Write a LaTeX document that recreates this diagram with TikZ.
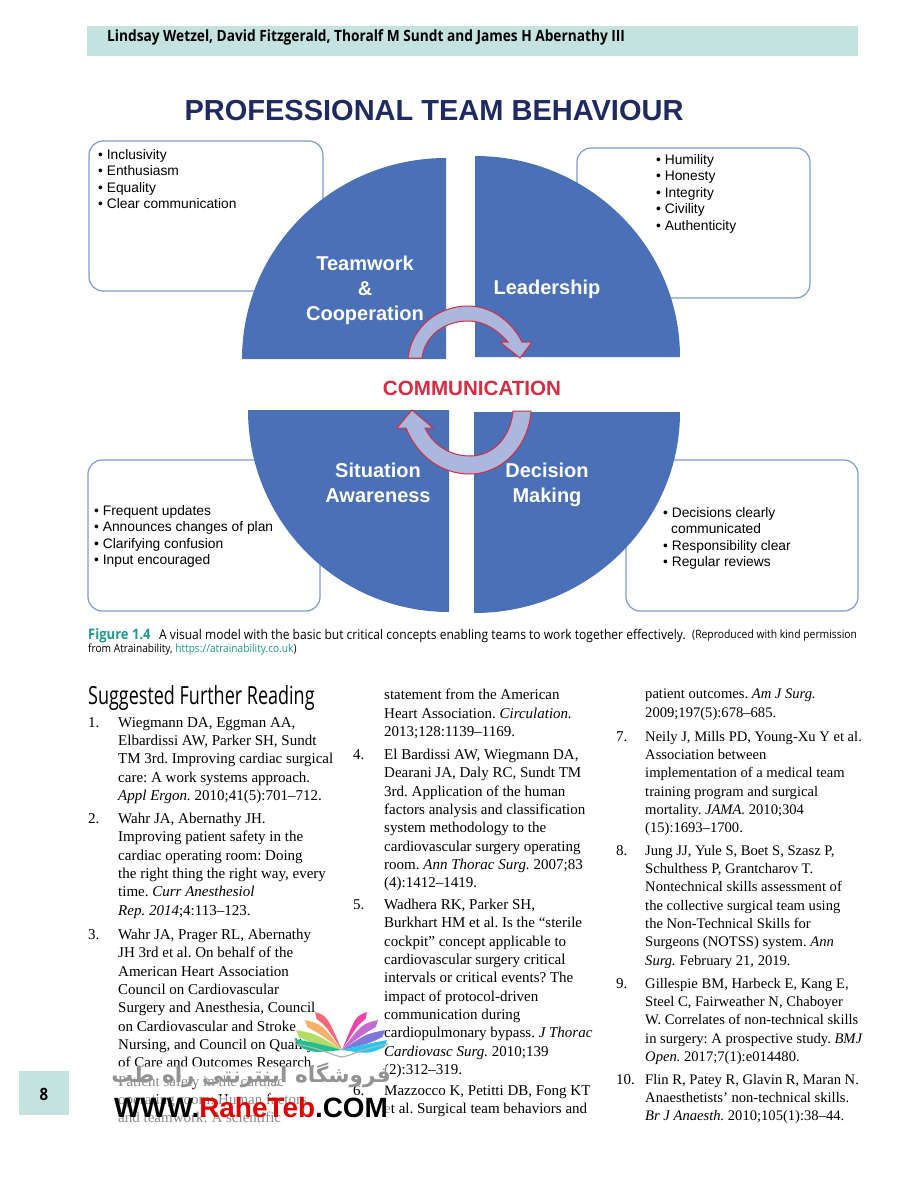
\documentclass[tikz,border=0pt]{standalone}
\usepackage{fontspec}
\setmainfont{Liberation Serif}
\newfontfamily\arialfont{Liberation Sans}
\newfontfamily\captfont[FakeStretch=0.9]{Open Sans}
\newfontfamily\headfont[FakeStretch=0.884]{Open Sans}
\newfontfamily\readfont[FakeStretch=0.72]{Open Sans}
\newfontfamily\arabicfont[Script=Arabic]{DejaVu Sans}
\TeXXeTstate=1
\usepackage{tikz}
\usetikzlibrary{positioning}
\definecolor{bandteal}{HTML}{C4E3DF}
\definecolor{navytitle}{HTML}{1F2A63}
\definecolor{quadblue}{HTML}{4A70B7}
\definecolor{boxline}{HTML}{7D9BD2}
\definecolor{arrowfill}{HTML}{ABB7DC}
\definecolor{commred}{HTML}{D92B41}
\definecolor{figteal}{HTML}{1E9A8C}

\begin{document}
\frenchspacing
\begin{tikzpicture}[
  x=1pt, y=-1pt,
  infobox/.style={rectangle, draw=boxline, line width=1.2pt, rounded corners=14pt, fill=white, inner sep=0pt},
  quad/.style={fill=quadblue},
  quadlabel/.style={text=white, align=center, inner sep=0pt, font=\arialfont\bfseries\fontsize{20}{25}\selectfont},
  bullets/.style={anchor=north west, align=left, inner sep=0pt, font=\arialfont\fontsize{13.8}{16.5}\selectfont},
  turn/.style={fill=arrowfill, draw=commred, line width=1pt, line join=miter},
  refnum/.style={anchor=north west, inner sep=0pt, font=\fontsize{15}{18.3}\selectfont},
  reftext/.style={anchor=north west, align=left, inner sep=0pt, font=\fontsize{15}{18.3}\selectfont},
  rightcol/.style={reftext, font=\fontsize{14.6}{18.3}\selectfont},
  capt/.style={anchor=west, inner sep=0pt, font=\captfont\fontsize{13.4}{14}\selectfont}
]
  \useasboundingbox[fill=white] (0,0) rectangle (922,1180);

  % Running head
  \fill[bandteal] (87,26) rectangle (858,56);
  \node[anchor=west, inner sep=0pt, font=\headfont\bfseries\fontsize{15.5}{18}\selectfont] (head) at (107,37.5) {Lindsay Wetzel, David Fitzgerald, Thoralf M Sundt and James H Abernathy III};

  % Title
  \node[text=navytitle, inner sep=0pt, font=\arialfont\bfseries\fontsize{29}{32}\selectfont] (title) at (434,111) {PROFESSIONAL TEAM BEHAVIOUR};

  % Boxes behind the disc
  \node[infobox, minimum width=234pt, minimum height=150pt] (boxtl) at (206,216) {};
  \node[infobox, minimum width=233pt, minimum height=150pt] (boxtr) at (693.5,223) {};
  \node[infobox, minimum width=232pt, minimum height=151pt] (boxbl) at (204,535.5) {};
  \node[infobox, minimum width=232pt, minimum height=151pt] (boxbr) at (742,535.5) {};

  % Quadrants
  \fill[quad] (446,359) -- (446,158) arc[start angle=90, end angle=180, x radius=204pt, y radius=201pt] -- cycle;
  \fill[quad] (475,357) -- (680,357) arc[start angle=0, end angle=90, x radius=205pt, y radius=201pt] -- cycle;
  \fill[quad] (449,410) -- (248,410) arc[start angle=180, end angle=270, x radius=201pt, y radius=202pt] -- cycle;
  \fill[quad] (474,412) -- (474,613) arc[start angle=270, end angle=360, x radius=206pt, y radius=201pt] -- cycle;

  % Turning arrows
  \draw[turn] (408,358) .. controls (412,325) and (440,306) .. (468,306)
    .. controls (492,306) and (512,322) .. (522,342) -- (532,342) -- (520,358) -- (500,342) -- (508,342)
    .. controls (497,330) and (485,321) .. (468,321) .. controls (445,321) and (425,335) .. (422,358) -- cycle;
  \draw[turn] (531,411) .. controls (529,445) and (503,474) .. (470,474)
    .. controls (440,474) and (417,455) .. (406,428) -- (397,428) -- (412,410) -- (433,428) -- (425,428)
    .. controls (433,445) and (450,456) .. (470,456) .. controls (495,456) and (511,435) .. (513,411) -- cycle;

  % Quadrant labels
  \node[quadlabel] (team) at (365,290) {Teamwork\\[0pt]\&\\[0pt]Cooperation};
  \node[quadlabel] (lead) at (547,289) {Leadership};
  \node[quadlabel] (situ) at (378,483) {Situation\\Awareness};
  \node[quadlabel] (deci) at (547,485) {Decision\\Making};
  \node[text=commred, inner sep=0pt, font=\arialfont\bfseries\fontsize{20.6}{24}\selectfont] (comm) at (472,388) {COMMUNICATION};

  % Bullet lists
  \node[bullets] (listtl) at (98,149) {\textbullet\ Inclusivity\\\textbullet\ Enthusiasm\\\textbullet\ Equality\\\textbullet\ Clear communication};
  \node[bullets] (listtr) at (656,154) {\textbullet\ Humility\\\textbullet\ Honesty\\\textbullet\ Integrity\\\textbullet\ Civility\\\textbullet\ Authenticity};
  \node[bullets] (listbl) at (94,505) {\textbullet\ Frequent updates\\\textbullet\ Announces changes of plan\\\textbullet\ Clarifying confusion\\\textbullet\ Input encouraged};
  \node[bullets] (listbr) at (663,507) {\textbullet\ Decisions clearly\\\hspace*{8pt}communicated\\\textbullet\ Responsibility clear\\\textbullet\ Regular reviews};

  % Caption
  \node[capt, text=figteal, font=\captfont\bfseries\fontsize{14.5}{16}\selectfont] (figlab) at (88,635.5) {Figure 1.4};
  \node[capt] (capa) at (159,635.5) {A visual model with the basic but critical concepts enabling teams to work together effectively.};
  \node[capt, font=\captfont\fontsize{11.5}{14}\selectfont] (capb) at (692,635.5) {(Reproduced with kind permission};
  \node[capt, font=\captfont\fontsize{11.3}{14}\selectfont] (capc) at (88,649.5) {from Atrainability, \textcolor{figteal}{https://atrainability.co.uk})};

  % Suggested reading, left column
  \node[anchor=west, inner sep=0pt, font=\readfont\fontsize{25}{27}\selectfont] (reading) at (88,698) {Suggested Further Reading};
  \node[refnum] (n1) at (88,717) {1.};
  \node[reftext] (r1) at (118,717) {Wiegmann DA, Eggman AA,\\Elbardissi AW, Parker SH, Sundt\\TM 3rd. Improving cardiac surgical\\care: A work systems approach.\\\textit{Appl Ergon.} 2010;41(5):701--712.};
  \node[refnum] (n2) at (88,813) {2.};
  \node[reftext] (r2) at (118,813) {Wahr JA, Abernathy JH.\\Improving patient safety in the\\cardiac operating room: Doing\\the right thing the right way, every\\time. \textit{Curr Anesthesiol}\\\textit{Rep. 2014};4:113--123.};
  \node[refnum] (n3) at (88,929) {3.};
  \node[reftext] (r3) at (118,929) {Wahr JA, Prager RL, Abernathy\\JH 3rd et al. On behalf of the\\American Heart Association\\Council on Cardiovascular\\Surgery and Anesthesia, Council\\on Cardiovascular and Stroke\\Nursing, and Council on Quality\\of Care and Outcomes Research.\\Patient safety in the cardiac\\operating room: Human factors\\and teamwork: A scientific};

  % Middle column
  \node[reftext] (r3b) at (384,689) {statement from the American\\Heart Association. \textit{Circulation.}\\2013;128:1139--1169.};
  \node[refnum] (n4) at (353,749) {4.};
  \node[reftext] (r4) at (384,749) {El Bardissi AW, Wiegmann DA,\\Dearani JA, Daly RC, Sundt TM\\3rd. Application of the human\\factors analysis and classification\\system methodology to the\\cardiovascular surgery operating\\room. \textit{Ann Thorac Surg.} 2007;83\\(4):1412--1419.};
  \node[refnum] (n5) at (353,899) {5.};
  \node[reftext] (r5) at (384,899) {Wadhera RK, Parker SH,\\Burkhart HM et al. Is the “sterile\\cockpit” concept applicable to\\cardiovascular surgery critical\\intervals or critical events? The\\impact of protocol-driven\\communication during\\cardiopulmonary bypass. \textit{J Thorac}\\\textit{Cardiovasc Surg.} 2010;139\\(2):312--319.};
  \node[refnum] (n6) at (353,1085) {6.};
  \node[reftext] (r6) at (384,1085) {Mazzocco K, Petitti DB, Fong KT\\et al. Surgical team behaviors and};

  % Right column
  \node[rightcol] (r6b) at (645,689) {patient outcomes. \textit{Am J Surg.}\\2009;197(5):678--685.};
  \node[refnum] (n7) at (616,731) {7.};
  \node[rightcol] (r7) at (645,731) {Neily J, Mills PD, Young-Xu Y et al.\\Association between\\implementation of a medical team\\training program and surgical\\mortality. \textit{JAMA.} 2010;304\\(15):1693--1700.};
  \node[refnum] (n8) at (616,845) {8.};
  \node[rightcol] (r8) at (645,845) {Jung JJ, Yule S, Boet S, Szasz P,\\Schulthess P, Grantcharov T.\\Nontechnical skills assessment of\\the collective surgical team using\\the Non-Technical Skills for\\Surgeons (NOTSS) system. \textit{Ann}\\\textit{Surg.} February 21, 2019.};
  \node[refnum] (n9) at (616,978) {9.};
  \node[rightcol] (r9) at (645,978) {Gillespie BM, Harbeck E, Kang E,\\Steel C, Fairweather N, Chaboyer\\W. Correlates of non-technical skills\\in surgery: A prospective study. \textit{BMJ}\\\textit{Open.} 2017;7(1):e014480.};
  \node[refnum] (n10) at (616,1074) {10.};
  \node[rightcol] (r10) at (645,1074) {Flin R, Patey R, Glavin R, Maran N.\\Anaesthetists' non-technical skills.\\\textit{Br J Anaesth.} 2010;105(1):38--44.};

  % Page number
  \fill[bandteal] (19,1071) rectangle (69,1115);
  \node[inner sep=0pt, font=\headfont\bfseries\fontsize{17}{20}\selectfont] (page) at (44,1094) {8};

  % Watermark
  \fill[white, opacity=.55] (112,1066) rectangle (390,1086);
  \fill[white, opacity=.55] (112,1096) rectangle (390,1122);
  \foreach \tipx/\tipy/\col in {315/1012/F4687A, 305/1020/F6B26B, 296/1030/B5DC6A, 295/1039/1FBF8F,
                                367/1012/EE44AA, 378/1020/C46AD2, 385/1030/7F78D8, 387/1040/25C8EE} {
    \definecolor{petal}{HTML}{\col}
    \fill[petal] (\tipx,\tipy) .. controls ({0.55*\tipx+0.45*342},{\tipy+4}) .. (342,1050)
      .. controls ({0.6*\tipx+0.4*342},{\tipy+14}) .. ({\tipx+(342-\tipx)*0.06},\tipy+7) -- cycle;
  }
  \draw[gray!60, line width=1.2pt] (296,1044) .. controls (320,1048) and (334,1056) .. (342,1057)
    .. controls (350,1056) and (364,1048) .. (388,1044);
  \node[text=gray!85, inner sep=0pt, font=\arabicfont\bfseries\fontsize{21.6}{25}\selectfont] (shop) at (251,1075) {\beginR فروشگاه اینترنتی راه طب\endR};
  \node[inner sep=0pt, font=\arialfont\bfseries\fontsize{27.9}{32}\selectfont] (site) at (251,1108) {WWW.\textcolor{red!90!black}{RaheTeb}.COM};
\end{tikzpicture}
\end{document}
